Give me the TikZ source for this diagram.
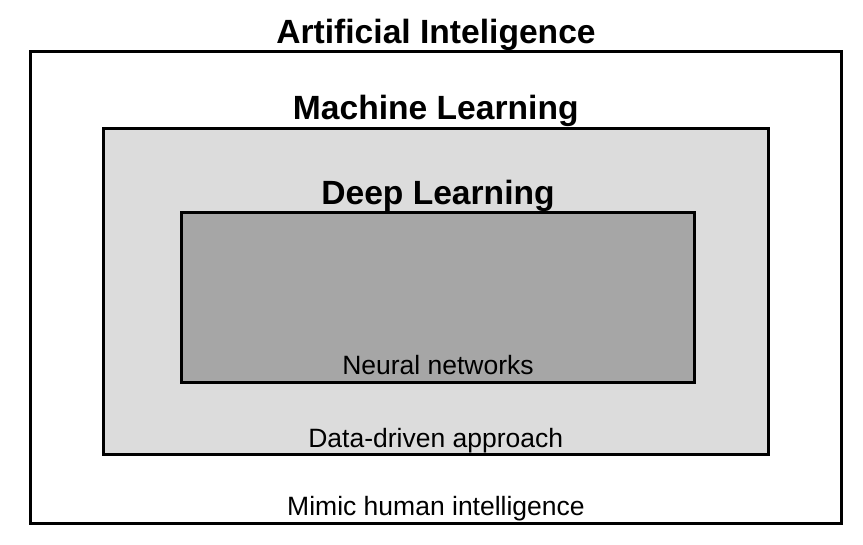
\documentclass[tikz,border=0pt]{standalone}
\usepackage{fontspec}
\setmainfont{Liberation Sans}
\usepackage{xcolor}
\usepackage{tikz}
\usetikzlibrary{positioning, calc}
\definecolor{cInk}{HTML}{000000}
\definecolor{cML}{HTML}{DCDCDC}
\definecolor{cDL}{HTML}{A6A6A6}
\tikzset{
  field/.style={rectangle, draw=cInk, line width=3pt, fill=#1, inner sep=0pt},
  heading/.style={anchor=base, font=\fontsize{33.6}{38}\selectfont\bfseries, inner sep=0pt},
  note/.style={anchor=base, font=\fontsize{26.5}{30}\selectfont, inner sep=0pt},
}

\begin{document}
\begin{tikzpicture}[x=1pt, y=-1pt]
\useasboundingbox (0,0) rectangle (863,545);
% nested fields
\node[field=white, minimum width=811pt, minimum height=471.5pt] (ai) at (436,287.25) {};
\node[field=cML, minimum width=665.5pt, minimum height=325.5pt] (ml) at (435.75,291.75) {};
\node[field=cDL, minimum width=512.5pt, minimum height=169.5pt] (dl) at (438,297.75) {};
% headings
\node[heading] (aiT) at ([yshift=6.5pt]ai.north) {Artificial Inteligence};
\node[heading] (mlT) at ([yshift=7.5pt]ml.north) {Machine Learning};
\node[heading] (dlT) at ([yshift=6.5pt]dl.north) {Deep Learning};
% notes
\node[note] (dlN) at ([yshift=9pt]dl.south) {Neural networks};
\node[note] (mlN) at ([yshift=8.5pt]ml.south) {Data-driven approach};
\node[note] (aiN) at ([yshift=9pt]ai.south) {Mimic human intelligence};
\end{tikzpicture}
\end{document}
